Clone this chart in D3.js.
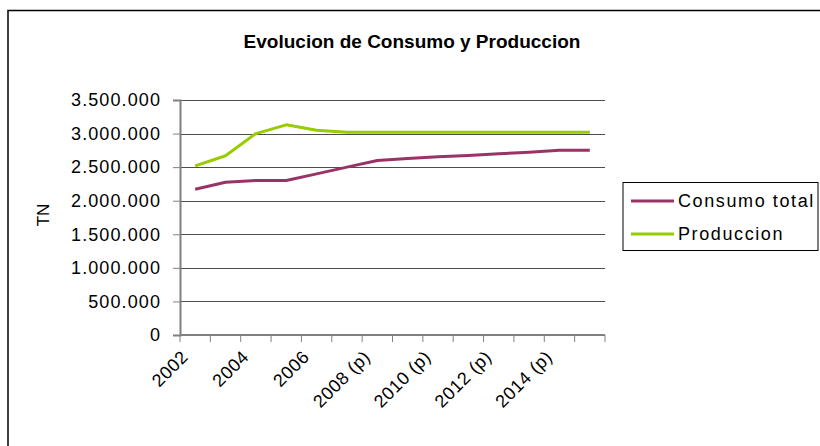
<!DOCTYPE html>
<meta charset="utf-8">
<script src="https://d3js.org/d3.v7.min.js"></script>
<style>
  body { margin: 0; background: #fff; }
  text { font-family: "Liberation Sans", Arial, sans-serif; }
</style>
<div id="chart"></div>
<script>
  // categories (years, p = projected)
  var years = ["2002", "2003", "2004", "2005", "2006", "2007", "2008 (p)", "2009 (p)",
               "2010 (p)", "2011 (p)", "2012 (p)", "2013 (p)", "2014 (p)", "2015 (p)"];
  var consumo = [2170000, 2275000, 2300000, 2300000, 2400000, 2500000, 2600000, 2630000,
                 2655000, 2675000, 2700000, 2720000, 2750000, 2750000];
  var produccion = [2520000, 2670000, 3000000, 3130000, 3050000, 3020000, 3020000, 3020000,
                    3020000, 3020000, 3020000, 3020000, 3020000, 3020000];
  var yTicks = [0, 500000, 1000000, 1500000, 2000000, 2500000, 3000000, 3500000];
  var seriesNames = ["Consumo total", "Produccion"];
  var colors = ["#993366", "#99cc00"];

  var W = 820, H = 446;
  var margin = {top: 100, left: 180, right: 215, bottom: 111};
  var width = W - margin.left - margin.right,
      height = H - margin.top - margin.bottom;

  var svg = d3.select("#chart").append("svg")
      .attr("width", W)
      .attr("height", H);

  // outer chart frame
  svg.append("rect")
      .attr("x", 8).attr("y", 10.5)
      .attr("width", W).attr("height", H)
      .attr("fill", "none")
      .attr("stroke", "#000")
      .attr("stroke-width", 1.5);

  svg.append("text")
      .attr("x", 412).attr("y", 48)
      .attr("text-anchor", "middle")
      .style("font-size", "19px")
      .style("font-weight", "bold")
      .text("Evolucion de Consumo y Produccion");

  var g = svg.append("g")
      .attr("transform", "translate(" + margin.left + "," + margin.top + ")");

  var x = d3.scaleBand().domain(years).range([0, width]);
  var y = d3.scaleLinear().domain([0, 3500000]).range([height, 0]);

  var fmt = function(d) { return d3.format(",")(d).replace(/,/g, "."); };

  // gridlines
  g.append("g")
    .selectAll("line")
    .data(yTicks.slice(1))
    .enter().append("line")
      .attr("x1", 0).attr("x2", width)
      .attr("y1", function(d) { return Math.round(y(d)) + 0.5; })
      .attr("y2", function(d) { return Math.round(y(d)) + 0.5; })
      .attr("stroke", "#4d4d4d")
      .attr("stroke-width", 1);

  // y axis
  var yAxis = g.append("g")
      .call(d3.axisLeft(y).tickValues(yTicks).tickFormat(fmt).tickSize(7).tickPadding(12));
  yAxis.select(".domain").attr("stroke", "#808080").attr("stroke-width", 2);
  yAxis.selectAll(".tick line").attr("stroke", "#808080");
  yAxis.selectAll("text")
      .style("font-size", "18px")
      .style("letter-spacing", "1.1px")
      .attr("fill", "#000");

  // x axis: ticks on category boundaries
  var xg = g.append("g").attr("transform", "translate(0," + height + ")");
  xg.append("line")
      .attr("x1", 0).attr("x2", width)
      .attr("stroke", "#808080").attr("stroke-width", 2);
  xg.selectAll(".xt")
    .data(years.concat(["end"]))
    .enter().append("line")
      .attr("class", "xt")
      .attr("x1", function(d, i) { return i * x.bandwidth(); })
      .attr("x2", function(d, i) { return i * x.bandwidth(); })
      .attr("y1", 0).attr("y2", 7)
      .attr("stroke", "#808080");
  xg.selectAll(".xl")
    .data(years.filter(function(d, i) { return i % 2 === 0; }))
    .enter().append("text")
      .attr("class", "xl")
      .attr("text-anchor", "end")
      .attr("transform", function(d) {
        return "translate(" + (x(d) + x.bandwidth() / 2 - 6) + ",23) rotate(-45)";
      })
      .style("font-size", "18px")
      .style("letter-spacing", "0.6px")
      .text(function(d) { return d; });

  // y axis title
  svg.append("text")
      .attr("transform", "translate(49,215) rotate(-90)")
      .attr("text-anchor", "middle")
      .style("font-size", "17px")
      .text("TN");

  // lines
  var line = d3.line()
      .x(function(d, i) { return x(years[i]) + x.bandwidth() / 2; })
      .y(function(d) { return y(d); });

  [consumo, produccion].forEach(function(s, k) {
    g.append("path")
      .datum(s)
      .attr("fill", "none")
      .attr("stroke", colors[k])
      .attr("stroke-width", 3)
      .attr("stroke-linejoin", "round")
      .attr("d", line);
  });

  // legend
  var lg = svg.append("g").attr("transform", "translate(623,182)");
  lg.append("rect")
      .attr("x", 0).attr("y", 0.5)
      .attr("width", 195).attr("height", 68)
      .attr("fill", "#fff")
      .attr("stroke", "#000");
  seriesNames.forEach(function(n, k) {
    var yy = 19 + k * 33;
    lg.append("line")
      .attr("x1", 8).attr("x2", 51)
      .attr("y1", yy).attr("y2", yy)
      .attr("stroke", colors[k]).attr("stroke-width", 3);
    lg.append("text")
      .attr("x", 55).attr("y", yy + 6)
      .style("font-size", "18px")
      .style("letter-spacing", "1.6px")
      .text(n);
  });
</script>
